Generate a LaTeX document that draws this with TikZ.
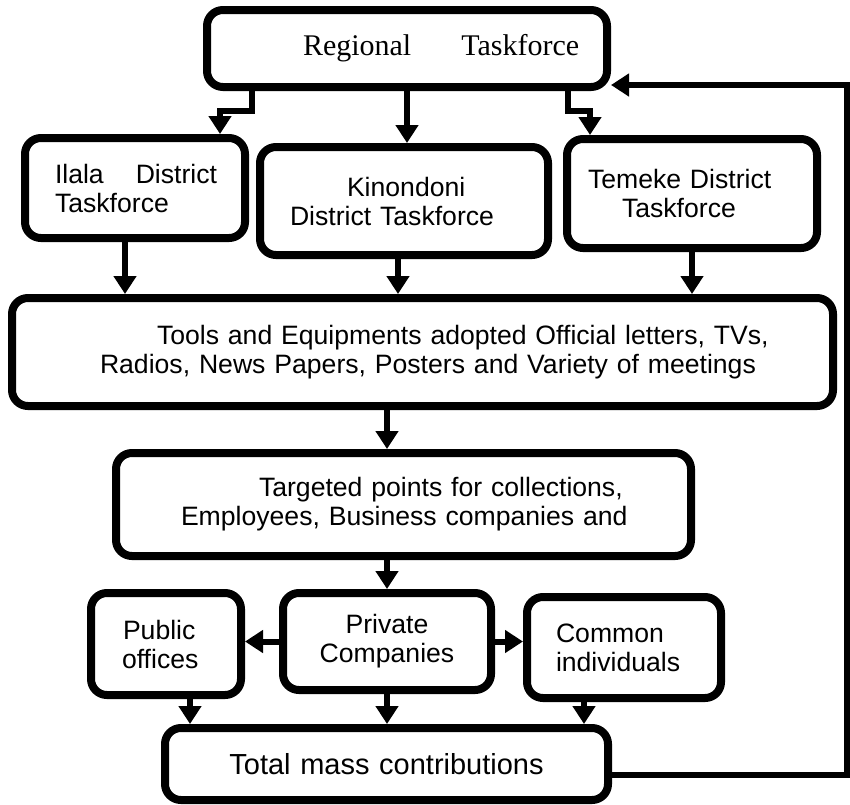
\documentclass[tikz,border=0pt]{standalone}
\usepackage{fontspec}
\setmainfont{Liberation Sans}
\newfontfamily\regfont{Liberation Serif}
\usetikzlibrary{arrows.meta}
\newcommand{\boxfont}{\fontsize{13.3}{14.5}\selectfont}
\tikzset{
  box/.style={draw, line width=4pt, rounded corners=8pt, inner xsep=5pt, inner ysep=0pt, align=left, font=\boxfont},
  flow/.style={line width=3pt, -{Triangle[length=9pt,width=11pt]}}
}

\begin{document}
\begin{tikzpicture}[x=0.5pt, y=-0.5pt]
  \useasboundingbox (0,0) rectangle (850,804);
  % regional and district level
  \node[box, text width=190pt, minimum height=38.5pt, font=\regfont\fontsize{15}{17}\selectfont] (reg) at (407,48.5)
    {\hspace*{43pt}Regional\hspace{25pt}Taskforce};
  \node[box, text width=100pt, minimum height=50pt] (ilala) at (135,188)
    {\hspace*{10pt}Ilala\hspace{16pt}District\\\hspace*{10pt}Taskforce};
  \node[box, text width=134pt, minimum height=54pt] (kin) at (404,201)
    {\hspace*{38.5pt}Kinondoni\\\hspace*{10pt}District Taskforce};
  \node[box, text width=115pt, minimum height=54.5pt] (tem) at (692,193.5)
    {\hspace*{5.5pt}Temeke District\\\hspace*{22.5pt}Taskforce};
  % media and targets
  \node[box, text width=400.5pt, minimum height=54pt] (tools) at (422.5,352)
    {\hspace*{67.5pt}Tools and Equipments adopted Official letters, TVs,\\\hspace*{39pt}Radios, News Papers, Posters and Variety of meetings};
  \node[box, text width=277.5pt, minimum height=51.5pt] (targ) at (403.5,504.5)
    {\hspace*{66.5pt}Targeted points for collections,\\\hspace*{27.5pt}Employees, Business companies and};
  % contributors
  \node[box, text width=65pt, minimum height=51pt] (pub) at (166,644)
    {\hspace*{11pt}Public\\\hspace*{10.5pt}offices};
  \node[box, text width=94pt, minimum height=48.5pt, align=center] (priv) at (387,641.5)
    {Private\\Companies};
  \node[box, text width=87pt, minimum height=50.5pt] (com) at (624,647.5)
    {\hspace*{9.5pt}Common\\\hspace*{9.5pt}individuals};
  \node[box, text width=211.5pt, minimum height=36pt, align=center, font=\fontsize{14.5}{16}\selectfont] (total) at (386.5,764)
    {Total mass contributions};
  \coordinate (loopcorner) at (847,85);

  \draw[flow] ([xshift=-77.5pt]reg.south) -- ++(0,20) -| ([xshift=42.5pt]ilala.north);
  \draw[flow] (reg.south) -- (reg.south |- kin.north);
  \draw[flow] ([xshift=80.5pt]reg.south) -- ++(0,20) -| ([xshift=-51pt]tem.north);
  \draw[flow] (ilala.south -| 125,0) -- (tools.north -| 125,0);
  \draw[flow] (kin.south -| 398,0) -- (tools.north -| 398,0);
  \draw[flow] (tem.south) -- (tem.south |- tools.north);
  \draw[flow] (tools.south -| 387,0) -- (targ.north -| 387,0);
  \draw[flow] (priv.north |- targ.south) -- (priv.north);
  \draw[flow] (priv.west) -- (priv.west -| pub.east);
  \draw[flow] (priv.east) -- (priv.east -| com.west);
  \draw[flow] (pub.south -| 190,0) -- (total.north -| 190,0);
  \draw[flow] (priv.south) -- (priv.south |- total.north);
  \draw[flow] (com.south -| 584,0) -- (total.north -| 584,0);
  % feedback to the region
  \draw[flow] ([yshift=-5.5pt]total.east) -| (loopcorner) -- ([yshift=-18.25pt]reg.east);
\end{tikzpicture}
\end{document}
